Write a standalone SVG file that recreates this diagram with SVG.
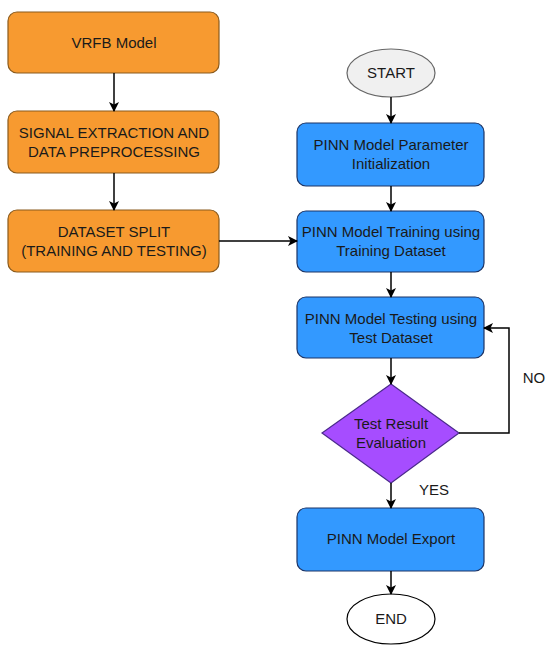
<svg xmlns="http://www.w3.org/2000/svg" width="550" height="652" viewBox="0 0 550 652">
<defs>
<marker id="ah" markerWidth="10" markerHeight="10" refX="9" refY="5" orient="auto" markerUnits="userSpaceOnUse">
<path d="M0,0 L10,5 L0,10 L2.5,5 Z" fill="#000"/>
</marker>
<style>
text{font-family:"Liberation Sans",Arial,sans-serif;font-size:15px;fill:#1a1a1a;text-anchor:middle}
.or{fill:#F79A30;stroke:#8a5a1c;stroke-width:1.2}
.bl{fill:#3399FF;stroke:#1c3466;stroke-width:1.2}
.dm{fill:#A64DFF;stroke:#4b2a8c;stroke-width:1.2}
.cn{fill:none;stroke:#000;stroke-width:1.5;marker-end:url(#ah)}
</style>
</defs>
<rect width="550" height="652" fill="#fff"/>
<g id="vrfb"><rect class="or" x="8" y="12" width="211" height="61" rx="9"/><text x="114" y="48">VRFB Model</text></g>
<g id="signal"><rect class="or" x="8" y="111" width="211" height="62" rx="9"/><text x="114" y="138">SIGNAL EXTRACTION AND</text><text x="114" y="157">DATA PREPROCESSING</text></g>
<g id="split"><rect class="or" x="8" y="210" width="211" height="62" rx="9"/><text x="114" y="237">DATASET SPLIT</text><text x="114" y="256">(TRAINING AND TESTING)</text></g>
<g id="start"><ellipse cx="391" cy="73" rx="44" ry="24" fill="#F0F0F0" stroke="#666" stroke-width="1.2"/><text x="391" y="78">START</text></g>
<g id="init"><rect class="bl" x="297" y="123" width="187" height="63" rx="9"/><text x="391" y="150">PINN Model Parameter</text><text x="391" y="169">Initialization</text></g>
<g id="train"><rect class="bl" x="297" y="211" width="187" height="61" rx="9"/><text x="391" y="237">PINN Model Training using</text><text x="391" y="256">Training Dataset</text></g>
<g id="test"><rect class="bl" x="297" y="297" width="187" height="61" rx="9"/><text x="391" y="324">PINN Model Testing using</text><text x="391" y="343">Test Dataset</text></g>
<g id="eval"><polygon class="dm" points="391,384 459,433 391,483 322,433"/><text x="391" y="429">Test Result</text><text x="391" y="448">Evaluation</text></g>
<g id="export"><rect class="bl" x="297" y="508" width="187" height="63" rx="9"/><text x="391" y="544">PINN Model Export</text></g>
<g id="end"><ellipse cx="391" cy="619" rx="44" ry="25" fill="#fff" stroke="#000" stroke-width="1.2"/><text x="391" y="624">END</text></g>
<g id="connectors">
<line class="cn" x1="114" y1="73" x2="114" y2="111"/>
<line class="cn" x1="114" y1="173" x2="114" y2="210"/>
<line class="cn" x1="219" y1="241" x2="297" y2="241"/>
<line class="cn" x1="391" y1="97" x2="391" y2="123"/>
<line class="cn" x1="391" y1="186" x2="391" y2="211"/>
<line class="cn" x1="391" y1="272" x2="391" y2="297"/>
<line class="cn" x1="391" y1="358" x2="391" y2="384"/>
<polyline class="cn" points="459,433 509,433 509,328 484,328"/>
<line class="cn" x1="391" y1="483" x2="391" y2="508"/>
<line class="cn" x1="391" y1="571" x2="391" y2="594"/>
<text x="534" y="383">NO</text>
<text x="434" y="495">YES</text>
</g>
</svg>
